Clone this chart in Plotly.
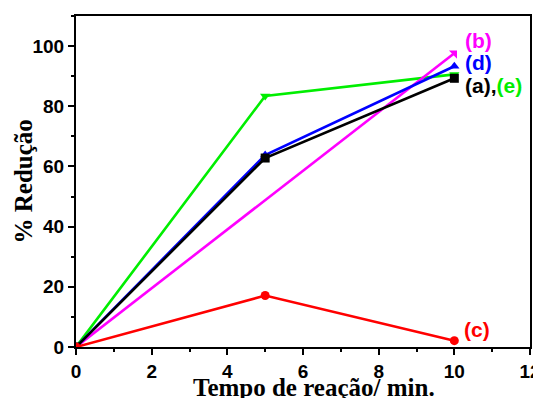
import plotly.graph_objects as go

t_a = [0, 5, 10]
red_a = [0, 62.8, 89.3]
t_b = [0, 10]
red_b = [0, 97.6]
t_c = [0, 5, 10]
red_c = [0, 17.1, 2.1]
t_d = [0, 5, 10]
red_d = [0, 63.8, 93.3]
t_e = [0, 5, 10]
red_e = [0, 83.4, 90.6]

x_ticks = [0, 2, 4, 6, 8, 10, 12]
y_ticks = [0, 20, 40, 60, 80, 100]

fig = go.Figure()
series = [
    (t_e, red_e, "#00ee00", "triangle-down", "(e)"),
    (t_b, red_b, "#ff00ff", "triangle-ne", "(b)"),
    (t_d, red_d, "#0000ff", "triangle-up", "(d)"),
    (t_a, red_a, "#000000", "square", "(a)"),
    (t_c, red_c, "#ff0000", "circle", "(c)"),
]
for x, y, c, sym, name in series:
    fig.add_trace(go.Scatter(x=x, y=y, mode="lines+markers", name=name,
                             line=dict(color=c, width=2.6),
                             marker=dict(color=c, symbol=sym, size=9)))

lab_font = dict(family="Liberation Sans, Arial", size=21)
fig.add_annotation(x=10.22, y=102, text="<b>(b)</b>", showarrow=False, xanchor="left", yanchor="middle",
                   font=dict(color="#ff00ff", **lab_font))
fig.add_annotation(x=10.22, y=94.4, text="<b>(d)</b>", showarrow=False, xanchor="left", yanchor="middle",
                   font=dict(color="#0000ff", **lab_font))
fig.add_annotation(x=10.22, y=86.8, text="<b>(a),</b><b style='color:#00ee00'>(e)</b>", showarrow=False,
                   xanchor="left", yanchor="middle", font=dict(color="#000000", **lab_font))
fig.add_annotation(x=10.2, y=5.8, text="<b>(c)</b>", showarrow=False, xanchor="left", yanchor="middle",
                   font=dict(color="#ff0000", **lab_font))

title_font = dict(family="Liberation Serif, Times New Roman", size=25, color="black")
fig.add_annotation(xref="paper", yref="paper", x=0.525, y=0, yshift=-40, xanchor="center", yanchor="middle",
                   text="<b>Tempo de reação/ min.</b>", showarrow=False, font=title_font)
fig.add_annotation(xref="paper", yref="paper", x=0, xshift=-53, y=0.5, xanchor="center", yanchor="middle",
                   text="<b>% Redução</b>", showarrow=False, textangle=-90, font=title_font)

axis_common = dict(showgrid=False, zeroline=False, showline=True, linecolor="black",
                   linewidth=2, mirror=True, ticks="outside", ticklen=6, tickwidth=2,
                   tickcolor="black", automargin=False,
                   tickfont=dict(family="Liberation Sans, Arial", size=19, color="black"))
fig.update_xaxes(range=[0, 12], tickvals=x_ticks, ticktext=[f"<b>{v}</b>" for v in x_ticks],
                 minor=dict(ticks="outside", dtick=1, ticklen=3, tickwidth=2, tickcolor="black"),
                 **axis_common)
fig.update_yaxes(range=[0, 110], tickvals=y_ticks, ticktext=[f"<b>{v}</b>" for v in y_ticks],
                 minor=dict(ticks="outside", dtick=10, ticklen=3, tickwidth=2, tickcolor="black"),
                 **axis_common)
# page body has an 8px default margin; size and margins compensate so nothing scrolls
fig.update_layout(width=533, height=390, showlegend=False,
                  plot_bgcolor="white", paper_bgcolor="white",
                  margin=dict(l=68, r=11, t=8, b=51, autoexpand=False))
fig.write_html("out.html")
